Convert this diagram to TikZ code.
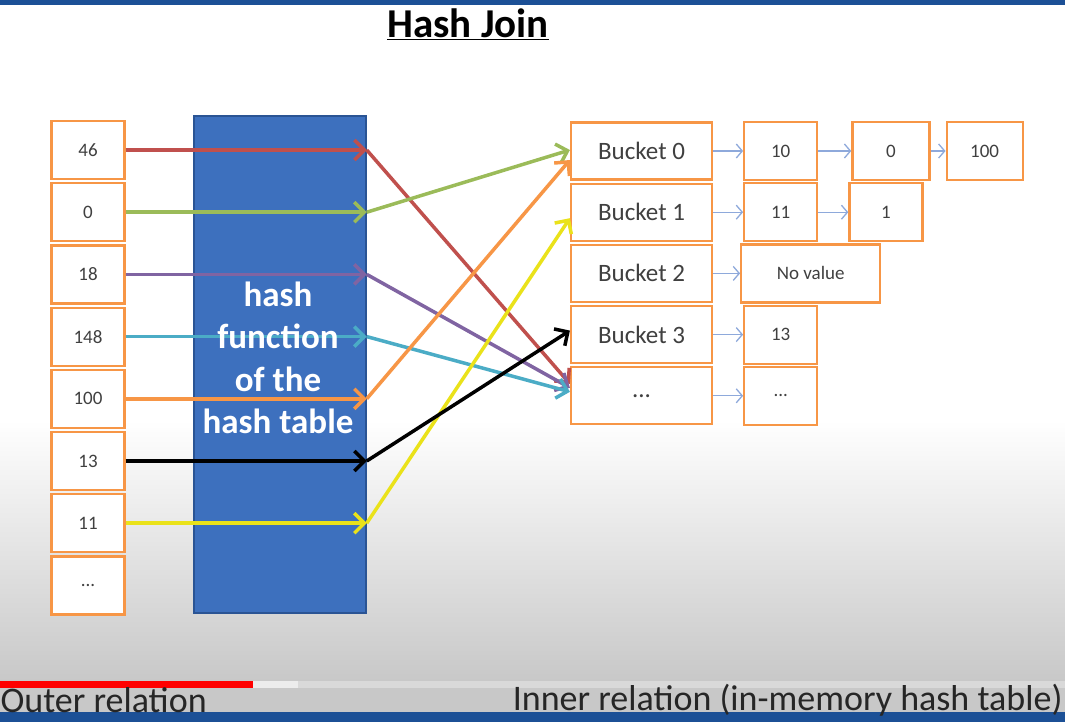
\documentclass[tikz,border=0pt]{standalone}
\usepackage{fontspec}
\setmainfont{Carlito}
\usepackage{tikz}
\usetikzlibrary{shapes,arrows.meta,positioning,calc}

\definecolor{boxorange}{HTML}{F79646}
\definecolor{boxtext}{HTML}{404040}
\definecolor{hashblue}{HTML}{3D70BE}
\definecolor{hashedge}{HTML}{2A5494}
\definecolor{linkblue}{HTML}{8EA9DB}
\definecolor{arrred}{HTML}{C0504D}
\definecolor{arrgreen}{HTML}{9BBB59}
\definecolor{arrpurple}{HTML}{8064A2}
\definecolor{arrcyan}{HTML}{4BACC6}
\definecolor{arryellow}{HTML}{EAE21A}
\definecolor{bggray}{HTML}{C8C8C8}
\definecolor{stripblue}{HTML}{1C5096}

\begin{document}
\begin{tikzpicture}[
    x=1pt, y=-1pt,
    node distance=2pt,
    valbox/.style={draw=boxorange, line width=2.2pt, fill=white, minimum width=73pt, minimum height=58pt, inner sep=0pt, text=boxtext, font=\fontsize{19}{22}\selectfont},
    bucket/.style={valbox, minimum width=141pt, minimum height=57pt, font=\fontsize{25}{29}\selectfont},
    hashbox/.style={draw=hashedge, line width=1.5pt, fill=hashblue, minimum width=172pt, minimum height=497pt},
    feed/.style={line width=3.5pt, -{Straight Barb[length=10pt,width=20pt]}},
    link/.style={draw=linkblue, line width=1.3pt, -{Straight Barb[length=6pt,width=14pt]}}
]
    \useasboundingbox (0,0) rectangle (1065,722);

    % Background of the slide
    \fill[white] (0,0) rectangle (1065,722);
    \shade[top color=white, bottom color=bggray] (0,420) rectangle (1065,681);
    \fill[stripblue] (0,0) rectangle (1065,5);
    \fill[red] (0,681) rectangle (253,688);
    \fill[gray!15] (253,681) rectangle (298,688);
    \fill[gray!30] (298,681) rectangle (1065,688);
    \fill[bggray] (0,688) rectangle (1065,712);
    \fill[stripblue] (0,712) rectangle (1065,722);

    % Title
    \node[font=\bfseries\fontsize{41}{45}\selectfont] (title) at (468,24) {\underline{Hash Join}};

    % Outer relation
    \node[valbox] (o46) at (88,150) {46};
    \node[valbox, below=of o46] (o0) {0};
    \node[valbox, below=of o0] (o18) {18};
    \node[valbox, below=of o18] (o148) {148};
    \node[valbox, below=of o148] (o100) {100};
    \node[valbox, below=of o100] (o13) {13};
    \node[valbox, below=of o13] (o11) {11};
    \node[valbox, below=of o11] (odots) {...};

    % Hash function
    \node[hashbox] (hf) at (280,364.5) {};

    % Buckets
    \node[bucket] (b0) at (641.5,151) {Bucket 0};
    \node[bucket, below=of b0] (b1) {Bucket 1};
    \node[bucket, below=of b1] (b2) {Bucket 2};
    \node[bucket, below=of b2] (b3) {Bucket 3};
    \node[bucket, below=of b3] (bd) {...};

    % Chains
    \node[valbox, right=30pt of b0] (c10) {10};
    \node[valbox, minimum width=77pt, right=33pt of c10] (c0) {0};
    \node[valbox, minimum width=76pt, right=15pt of c0] (c100) {100};
    \node[valbox, right=30pt of b1] (c11) {11};
    \node[valbox, right=30pt of c11] (c1) {1};
    \node[valbox, minimum width=139pt, right=27pt of b2] (cnone) {No value};
    \node[valbox, right=30pt of b3] (c13) {13};
    \node[valbox, right=30pt of bd] (cdots) {...};

    \foreach \b/\c in {b0/c10, c10/c0, c0/c100, b1/c11, c11/c1, b2/cnone, b3/c13, bd/cdots}
        \draw[link] (\b) -- (\c);

    % Into the hash function
    \foreach \v/\col in {46/arrred, 0/arrgreen, 18/arrpurple, 148/arrcyan, 100/boxorange, 13/black, 11/arryellow} {
        \coordinate (h\v) at (o\v -| hf.east);
        \draw[feed, \col] (o\v) -- (h\v);
    }
    \node[text=white, align=center, font=\bfseries\fontsize{35}{42.5}\selectfont] (hftext) at (278,358) {hash\\function\\of the\\hash table};

    % Out to the buckets
    \draw[feed, arrred] (h46) -- ([yshift=12pt]bd.west);
    \draw[feed, arrpurple] (h18) -- ([yshift=8pt]bd.west);
    \draw[feed, arrcyan] (h148) -- ([yshift=4pt]bd.west);
    \draw[feed, arrgreen] (h0) -- ([yshift=1pt]b0.west);
    \draw[feed, boxorange] (h100) -- ([yshift=-9pt]b0.west);
    \draw[feed, arryellow] (h11) -- ([yshift=-6pt]b1.west);
    \draw[feed, black] (h13) -- ([yshift=4pt]b3.west);

    % Captions
    \node[anchor=west, font=\fontsize{36}{40}\selectfont, text=black!85] (outer) at (-3,700) {Outer relation};
    \node[anchor=east, font=\fontsize{36}{40}\selectfont, text=black!85] (inner) at (1066,700) {Inner relation (in-memory hash table)};
\end{tikzpicture}
\end{document}
